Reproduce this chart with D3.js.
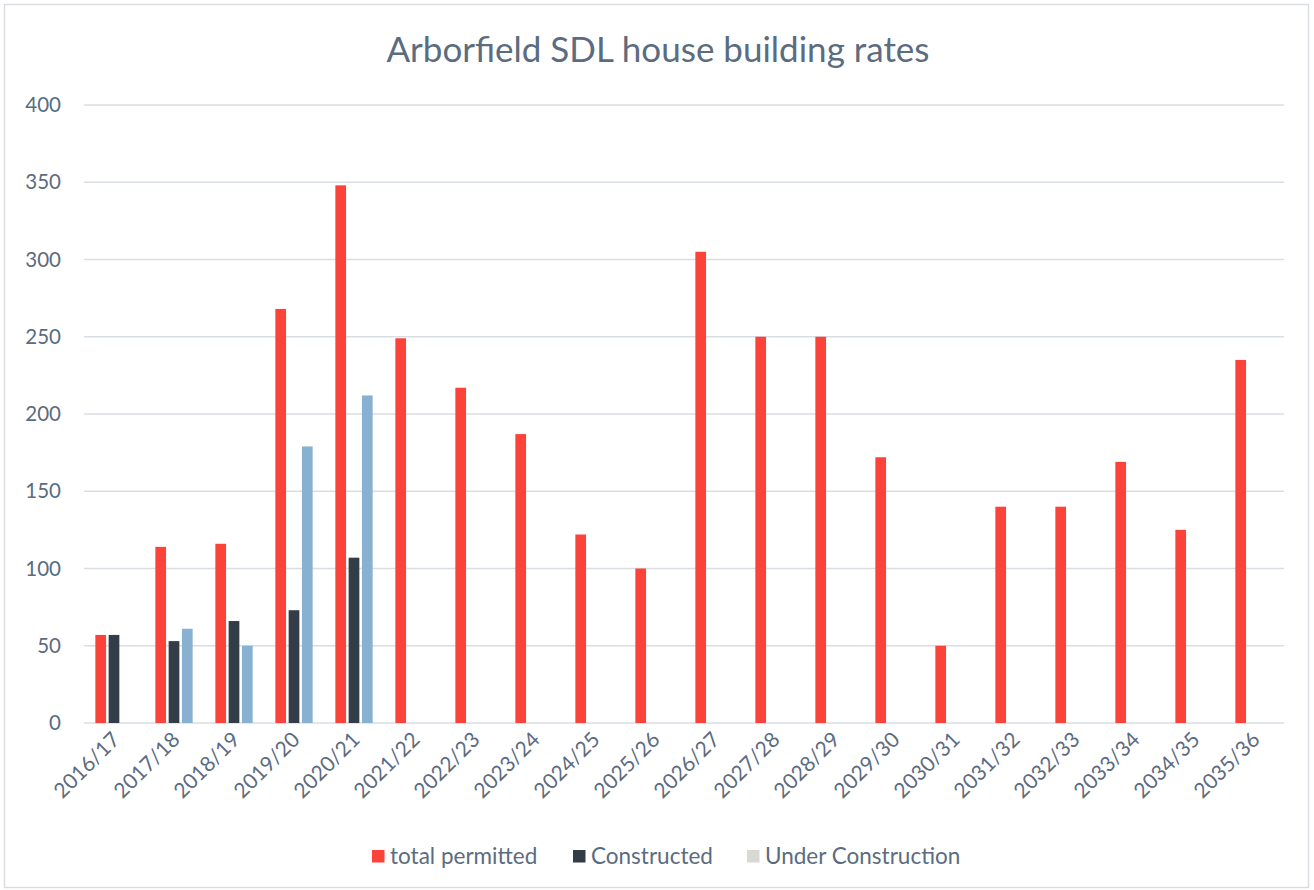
<!DOCTYPE html>
<html lang="en">
<head>
    <meta charset="UTF-8">
    <title>Arborfield SDL house building rates</title>
    <script src="https://cdn.jsdelivr.net/npm/d3@7"></script>
    <style>
        html, body {
            margin: 0;
            padding: 0;
            background: #fff;
            overflow: hidden;
        }
        text {
            font-family: Lato, "Open Sans", sans-serif;
            fill: #5b6c80;
        }
    </style>
</head>
<body>
</body>
<script>
    let width = 1314;
    let height = 890;

    // data
    let years = ['2016/17', '2017/18', '2018/19', '2019/20', '2020/21', '2021/22', '2022/23',
        '2023/24', '2024/25', '2025/26', '2026/27', '2027/28', '2028/29', '2029/30', '2030/31',
        '2031/32', '2032/33', '2033/34', '2034/35', '2035/36'];
    let seriesNames = ['total permitted', 'Constructed', 'Under Construction'];
    let totalPermitted = [57, 114, 116, 268, 348, 249, 217, 187, 122, 100, 305, 250, 250, 172, 50, 140, 140, 169, 125, 235];
    let constructed = [57, 53, 66, 73, 107, null, null, null, null, null, null, null, null, null, null, null, null, null, null, null];
    let underConstruction = [null, 61, 50, 179, 212, null, null, null, null, null, null, null, null, null, null, null, null, null, null, null];
    let yTicks = [0, 50, 100, 150, 200, 250, 300, 350, 400];

    let barColors = ['#fb433a', '#333d48', '#87b0d1'];
    let legendColors = ['#fb433a', '#333d48', '#d8d8d5'];

    let margin = {top: 105, right: 30, bottom: 167, left: 84};
    let plotW = 1200;

    let svg = d3.select('body').append('svg')
        .attr('width', width)
        .attr('height', height);

    // chart border
    svg.append('rect')
        .attr('x', 4.5).attr('y', 4.5)
        .attr('width', 1304).attr('height', 883)
        .attr('fill', '#fff')
        .attr('stroke', '#d9dde2')
        .attr('stroke-width', 1.5);

    let x0 = d3.scaleBand()
        .domain(years)
        .range([margin.left, margin.left + plotW]);

    let groupW = 37.3;
    let x1 = d3.scaleBand()
        .domain(seriesNames)
        .range([0, groupW])
        .paddingInner(0.195);

    let y = d3.scaleLinear()
        .domain([0, 400])
        .range([723, 105]);

    // gridlines
    svg.append('g')
        .selectAll('line')
        .data(yTicks)
        .enter().append('line')
        .attr('x1', margin.left)
        .attr('x2', margin.left + plotW)
        .attr('y1', d => y(d))
        .attr('y2', d => y(d))
        .attr('stroke', '#d9dee4')
        .attr('stroke-width', 1.5);

    // y axis labels
    let yAxis = d3.axisLeft(y).tickValues(yTicks).tickSize(0).tickPadding(0);
    let gy = svg.append('g')
        .attr('transform', 'translate(61,0)')
        .call(yAxis);
    gy.select('.domain').remove();
    gy.selectAll('text')
        .attr('font-size', 20.5)
        .style('font-family', 'Lato, "Open Sans", sans-serif')
        .attr('fill', '#5b6c80');

    // bars
    let table = years.map((yr, i) => ({
        year: yr,
        values: [totalPermitted[i], constructed[i], underConstruction[i]]
    }));

    let groups = svg.append('g')
        .selectAll('g')
        .data(table)
        .enter().append('g')
        .attr('transform', d => `translate(${x0(d.year) + (x0.bandwidth() - groupW) / 2},0)`);

    groups.selectAll('rect')
        .data(d => d.values.map((v, k) => ({name: seriesNames[k], value: v, k: k})).filter(e => e.value != null))
        .enter().append('rect')
        .attr('x', d => x1(d.name))
        .attr('width', x1.bandwidth())
        .attr('y', d => y(d.value))
        .attr('height', d => y(0) - y(d.value))
        .attr('fill', d => barColors[d.k]);

    // x axis labels
    let xAxis = d3.axisBottom(x0).tickSize(0).tickPadding(0);
    let gx = svg.append('g')
        .attr('transform', `translate(0,${y(0)})`)
        .call(xAxis);
    gx.select('.domain').remove();
    gx.selectAll('text')
        .attr('font-size', 21)
        .style('font-family', 'Lato, "Open Sans", sans-serif')
        .attr('fill', '#5b6c80')
        .attr('text-anchor', 'end')
        .attr('dy', 0)
        .attr('transform', 'translate(7,18) rotate(-45)');

    // title
    svg.append('text')
        .attr('x', 658)
        .attr('y', 62)
        .attr('text-anchor', 'middle')
        .attr('font-size', 35)
        .text('Arborfield SDL house building rates');

    // legend
    let legendX = [372, 573, 747];
    let legend = svg.append('g')
        .selectAll('g')
        .data(seriesNames)
        .enter().append('g')
        .attr('transform', (d, i) => `translate(${legendX[i]},850)`);
    legend.append('rect')
        .attr('width', 12.5)
        .attr('height', 12.5)
        .attr('fill', (d, i) => legendColors[i]);
    legend.append('text')
        .attr('x', 18)
        .attr('y', 14)
        .attr('font-size', 22.5)
        .text(d => d);
</script>
</html>
